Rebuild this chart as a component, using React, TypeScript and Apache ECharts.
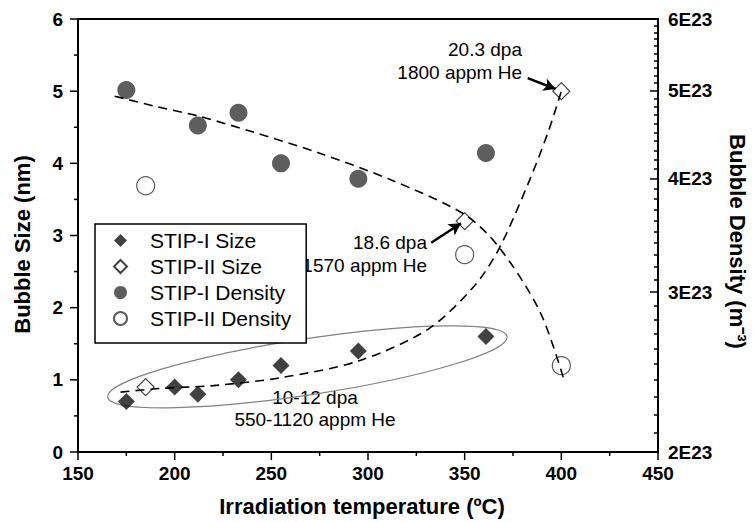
import React, { useEffect, useRef } from 'react';
import * as echarts from 'echarts';

// ---- data ----
const sizeITemps = [175, 200, 212, 233, 255, 295, 361];
const sizeIValues = [0.7, 0.9, 0.8, 1.0, 1.2, 1.4, 1.6];
const sizeIITemps = [185, 350, 400];
const sizeIIValues = [0.9, 3.2, 5.0];
const densITemps = [175, 212, 233, 255, 295, 361];
const densIValues = [5.01e23, 4.58e23, 4.73e23, 4.16e23, 4.0e23, 4.27e23];
const densIITemps = [185, 350, 400];
const densIIValues = [3.93e23, 3.3e23, 2.49e23];

// dashed guide curves (in left-axis units)
const densTrendTemps = [169, 190, 213, 241, 275, 312, 350, 368, 389, 401.5];
const densTrendValues = [4.93, 4.79, 4.65, 4.43, 4.14, 3.77, 3.29, 2.83, 1.94, 0.99];
const sizeTrendTemps = [172, 192, 220, 255, 295, 331, 355, 368, 383, 393, 400];
const sizeTrendValues = [0.83, 0.88, 0.92, 1.03, 1.26, 1.7, 2.3, 2.83, 3.73, 4.42, 5.0];

// axis ticks
const xTickLabels = [150, 200, 250, 300, 350, 400, 450];
const xMinorTicks = [175, 225, 275, 325, 375, 425];
const sizeTickLabels = [0, 1, 2, 3, 4, 5, 6];
const sizeMinorTicks = [0.5, 1.5, 2.5, 3.5, 4.5, 5.5];
const densityTicks = [2e23, 3e23, 4e23, 5e23, 6e23];

// annotation anchors (data units)
const ellipseEnds = [[165.4, 0.76, 371.9, 1.6]];
const arrows = [
  [[382.6, 5.18], [397, 5.03]],
  [[332.7, 2.9], [348.1, 3.17]],
];

const legendNames = ['STIP-I Size', 'STIP-II Size', 'STIP-I Density', 'STIP-II Density'];

const FONT = '"Liberation Sans", Arial, Helvetica, sans-serif';

const zip = (a: number[], b: number[]) => a.map((x, i) => [x, b[i]]);
const zipLog = (a: number[], b: number[]) => a.map((x, i) => [x, Math.log10(b[i])]);

const minorDensity: number[] = [];
for (let k = 21; k < 60; k++) {
  if (k % 10 !== 0) minorDensity.push(Math.log10((k / 10) * 1e23));
}

const mkLine = () => ({ show: true, lineStyle: { color: '#000', width: 2, type: 'solid' } });
const mkTick = (length: number, values: number[], inside = false) => ({
  show: true, inside, length, customValues: values, lineStyle: { color: '#000', width: 1.5, type: 'solid' },
});
const noLabel = { show: false };
const noSplit = { show: false };

const textEl = (x: number, y: number, text: string, align: string) => ({
  type: 'text', x, y, silent: true,
  style: { text, fill: '#000', fontSize: 19, fontFamily: FONT, align, verticalAlign: 'middle' },
});

export default function App() {
  const ref = useRef<HTMLDivElement>(null);
  useEffect(() => {
    document.body.style.margin = '0';
    const chart = echarts.init(ref.current!, null, { renderer: 'svg' });
    const labelStyle = { color: '#000', fontSize: 19, fontWeight: 'bold', fontFamily: FONT };
    const nameStyle = { color: '#000', fontSize: 22, fontWeight: 'bold', fontFamily: FONT };
    const xRange = { min: xTickLabels[0], max: xTickLabels[xTickLabels.length - 1] };
    const sRange = { min: sizeTickLabels[0], max: sizeTickLabels[sizeTickLabels.length - 1] };
    const dRange = { min: Math.log10(densityTicks[0]), max: Math.log10(densityTicks[densityTicks.length - 1]) };
    const texts = [
      textEl(522, 49, '20.3 dpa', 'right'),
      textEl(522, 72, '1800 appm He', 'right'),
      textEl(427, 242, '18.6 dpa', 'right'),
      textEl(427, 265, '1570 appm He', 'right'),
      textEl(315, 397, '10-12 dpa', 'center'),
      textEl(315, 419, '550-1120 appm He', 'center'),
    ];
    const option: any = {
      animation: false,
      backgroundColor: '#fff',
      grid: { left: 78, right: 95, top: 19, bottom: 69, show: true, borderColor: '#000', borderWidth: 2, backgroundColor: 'transparent' },
      xAxis: [
        {
          type: 'value', ...xRange, position: 'bottom',
          axisLine: mkLine(),
          axisTick: { show: false },
          splitLine: noSplit,
          axisLabel: { ...labelStyle, margin: 12, customValues: xTickLabels },
          name: 'Irradiation temperature (ºC)', nameLocation: 'middle', nameGap: 43,
          nameTextStyle: { ...nameStyle, padding: [0, 12, 0, 0] },
        },
      ],
      yAxis: [
        {
          type: 'value', ...sRange, position: 'left',
          axisLine: mkLine(),
          axisTick: { show: false },
          splitLine: noSplit,
          axisLabel: { ...labelStyle, margin: 15, customValues: sizeTickLabels },
          name: 'Bubble Size (nm)', nameLocation: 'middle', nameGap: 45, nameRotate: 90,
          nameTextStyle: { ...nameStyle, padding: [0, 18, 0, 0] },
        },
        {
          type: 'value', position: 'right', ...dRange,
          axisLine: mkLine(),
          axisTick: mkTick(8, densityTicks.map((d) => Math.log10(d)), true),
          axisLabel: {
            ...labelStyle, margin: 10,
            customValues: densityTicks.map((d) => Math.log10(d)),
            formatter: (v: number) => `${Math.round(Math.pow(10, v) / 1e23)}E23`,
          },
          splitLine: noSplit,
          name: 'Bubble Density (m⁻³)', nameLocation: 'middle', nameGap: 68, nameRotate: -90,
          nameTextStyle: { ...nameStyle, padding: [0, 0, 0, 12] },
        },
        {
          type: 'value', position: 'right', ...dRange,
          axisLine: { show: false },
          axisTick: mkTick(4, minorDensity, true),
          axisLabel: noLabel, splitLine: noSplit,
        },
      ],
      legend: {
        orient: 'vertical', left: 95, top: 224,
        data: legendNames,
        itemWidth: 13, itemHeight: 13, itemGap: 5,
        padding: [6, 15, 14, 18],
        borderColor: '#000', borderWidth: 1.5, backgroundColor: '#fff',
        selectedMode: false,
        textStyle: { fontSize: 21, color: '#000', fontFamily: FONT, padding: [0, 0, 0, 18] },
      },
      graphic: texts,
      series: [
        {
          type: 'custom', name: 'group', coordinateSystem: 'cartesian2d', xAxisIndex: 0, yAxisIndex: 0,
          silent: true, clip: false, data: ellipseEnds, encode: { x: [0, 2], y: [1, 3] },
          renderItem: (params: any, api: any) => {
            const p1 = api.coord([api.value(0), api.value(1)]);
            const p2 = api.coord([api.value(2), api.value(3)]);
            const cx = (p1[0] + p2[0]) / 2;
            const cy = (p1[1] + p2[1]) / 2;
            const dx = p2[0] - p1[0];
            const dy = p2[1] - p1[1];
            const rx = Math.sqrt(dx * dx + dy * dy) / 2;
            return {
              type: 'ellipse', x: cx, y: cy, rotation: Math.atan2(-dy, dx),
              shape: { cx: 0, cy: 0, rx, ry: 28 },
              style: { fill: 'none', stroke: '#808080', lineWidth: 1.2 },
            };
          },
        },
        {
          type: 'line', name: 'Density trend', data: zip(densTrendTemps, densTrendValues),
          smooth: 0.3, symbol: 'none', silent: true, clip: false,
          lineStyle: { color: '#000', width: 1.6, type: [9, 6] },
        },
        {
          type: 'line', name: 'Size trend', data: zip(sizeTrendTemps, sizeTrendValues),
          smooth: 0.3, symbol: 'none', silent: true, clip: false,
          lineStyle: { color: '#000', width: 1.6, type: [9, 6] },
        },
        {
          type: 'scatter', name: 'STIP-I Size', data: zip(sizeITemps, sizeIValues), clip: false,
          symbol: 'diamond', symbolSize: 17, itemStyle: { color: '#111' },
        },
        {
          type: 'scatter', name: 'STIP-II Size', data: zip(sizeIITemps, sizeIIValues), clip: false,
          symbol: 'diamond', symbolSize: 17,
          itemStyle: { color: 'rgba(255,255,255,0)', borderColor: '#111', borderWidth: 1.2 },
          markLine: {
            silent: true, symbol: ['none', 'arrow'], symbolSize: [10, 12],
            label: { show: false },
            lineStyle: { color: '#000', width: 2.5, type: 'solid' },
            data: arrows.map(([a, b]) => [{ coord: a }, { coord: b }]),
          },
        },
        {
          type: 'scatter', name: 'STIP-I Density', yAxisIndex: 1, data: zipLog(densITemps, densIValues), clip: false,
          symbol: 'circle', symbolSize: 18, itemStyle: { color: '#363636' },
        },
        {
          type: 'scatter', name: 'STIP-II Density', yAxisIndex: 1, data: zipLog(densIITemps, densIIValues), clip: false,
          symbol: 'circle', symbolSize: 18,
          itemStyle: { color: 'rgba(255,255,255,0)', borderColor: '#333', borderWidth: 1.2 },
        },
      ],
    };
    chart.setOption(option);

    // outward tick marks, positioned through the axes' own scales
    const tickLines: any[] = [];
    const addX = (v: number, len: number) => {
      const p = chart.convertToPixel({ xAxisIndex: 0, yAxisIndex: 0 }, [v, sRange.min]) as number[];
      tickLines.push({ type: 'line', silent: true, shape: { x1: p[0], y1: p[1], x2: p[0], y2: p[1] + len }, style: { stroke: '#000', lineWidth: 1.5 } });
    };
    const addY = (v: number, len: number) => {
      const p = chart.convertToPixel({ xAxisIndex: 0, yAxisIndex: 0 }, [xRange.min, v]) as number[];
      tickLines.push({ type: 'line', silent: true, shape: { x1: p[0], y1: p[1], x2: p[0] - len, y2: p[1] }, style: { stroke: '#000', lineWidth: 1.5 } });
    };
    xTickLabels.forEach((v) => addX(v, 8));
    xMinorTicks.forEach((v) => addX(v, 4));
    sizeTickLabels.forEach((v) => addY(v, 8));
    sizeMinorTicks.forEach((v) => addY(v, 4));
    chart.setOption({ graphic: [...texts, ...tickLines] }, { replaceMerge: ['graphic'] });

    return () => chart.dispose();
  }, []);
  return <div ref={ref} style={{ width: 756, height: 522 }} />;
}
